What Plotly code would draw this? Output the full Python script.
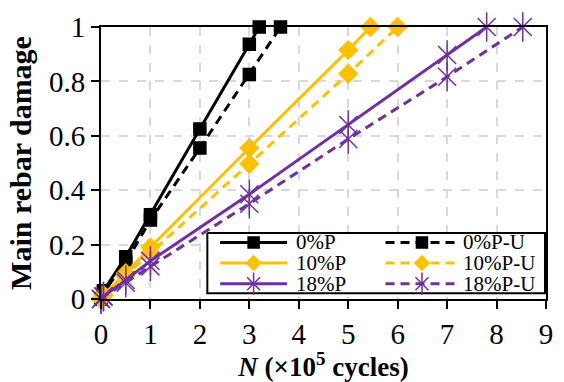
import plotly.graph_objects as go

# Damage of main rebar versus number of loading cycles (x 10^5)
n_0p = [0, 0.05, 0.5, 1, 2, 3, 3.2]
d_0p = [0, 0.03, 0.155, 0.31, 0.625, 0.937, 1.0]

n_0pu = [0, 0.05, 0.5, 1, 2, 3, 3.63]
d_0pu = [0, 0.025, 0.135, 0.29, 0.555, 0.825, 1.0]

n_10p = [0, 0.05, 0.5, 1, 3, 5, 5.45]
d_10p = [0, 0.015, 0.095, 0.19, 0.555, 0.915, 1.0]

n_10pu = [0, 0.05, 0.5, 1, 3, 5, 6.0]
d_10pu = [0, 0.012, 0.085, 0.17, 0.497, 0.828, 1.0]

n_18p = [0, 0.05, 0.5, 1, 3, 5, 7, 7.8]
d_18p = [0, 0.01, 0.07, 0.14, 0.385, 0.64, 0.897, 1.0]

n_18pu = [0, 0.05, 0.5, 1, 3, 5, 7, 8.53]
d_18pu = [0, 0.008, 0.06, 0.12, 0.35, 0.588, 0.817, 1.0]

x_ticks = [0, 1, 2, 3, 4, 5, 6, 7, 8, 9]
y_ticks = [0, 0.2, 0.4, 0.6, 0.8, 1.0]
y_ticktext = ["0", "0.2", "0.4", "0.6", "0.8", "1"]

BLACK = "#000000"
GOLD = "#FFC000"
PURPLE = "#7030A0"
FONT = "Liberation Serif, Times New Roman, serif"
DASH = "9px,6px"

# name, x, y, colour, dash, marker symbol, marker size
series = [
    ("0%P", n_0p, d_0p, BLACK, "solid", "square", 12),
    ("0%P-U", n_0pu, d_0pu, BLACK, DASH, "square", 12),
    ("10%P", n_10p, d_10p, GOLD, "solid", "diamond", 14),
    ("10%P-U", n_10pu, d_10pu, GOLD, DASH, "diamond", 14),
    ("18%P", n_18p, d_18p, PURPLE, "solid", "x-thin-open", 18),
    ("18%P-U", n_18pu, d_18pu, PURPLE, DASH, "x-thin-open", 18),
]

# plot area in pixels (margins below)
L, R, T, B = 101, 11, 19, 79
W, H = 564, 382


def add_markers(fig, xs, ys, color, symbol, size, xaxis="x", yaxis="y"):
    fig.add_trace(go.Scatter(
        x=xs, y=ys, mode="markers", showlegend=False, hoverinfo="skip",
        xaxis=xaxis, yaxis=yaxis, cliponaxis=False,
        marker=dict(symbol=symbol, size=size, color=color,
                    line=dict(color=color, width=1.5)),
    ))
    if symbol == "x-thin-open":
        # vertical stroke completes the six-armed asterisk
        fig.add_trace(go.Scatter(
            x=xs, y=ys, mode="markers", showlegend=False, hoverinfo="skip",
            xaxis=xaxis, yaxis=yaxis, cliponaxis=False,
            marker=dict(symbol="line-ns-open", size=size + 3, color=color,
                        line=dict(color=color, width=1.5)),
        ))


fig = go.Figure()
for name, xs, ys, color, dash, symbol, size in series:
    fig.add_trace(go.Scatter(
        x=xs, y=ys, name=name, mode="lines", showlegend=False,
        line=dict(color=color, width=3, dash=dash), cliponaxis=False,
    ))
    add_markers(fig, xs, ys, color, symbol, size)

# ---- legend box, drawn on a pixel-scaled overlay axis pair ----
box_x0, box_x1, box_y0, box_y1 = 209, 552, 234, 297
fig.add_trace(go.Scatter(
    x=[box_x0, box_x1, box_x1, box_x0, box_x0],
    y=[box_y0, box_y0, box_y1, box_y1, box_y0],
    mode="lines", fill="toself", fillcolor="white",
    line=dict(color="black", width=2), showlegend=False, hoverinfo="skip",
    xaxis="x2", yaxis="y2", cliponaxis=False,
))
row_y = [244, 265.5, 287]
col_line = [(222, 290), (390, 464)]
col_text = [297, 467]
annotations = []
for i, (name, xs, ys, color, dash, symbol, size) in enumerate(series):
    r, c = divmod(i, 2)
    lx0, lx1 = col_line[c]
    yy = row_y[r]
    fig.add_trace(go.Scatter(
        x=[lx0, lx1], y=[yy, yy], mode="lines", showlegend=False,
        hoverinfo="skip", xaxis="x2", yaxis="y2", cliponaxis=False,
        line=dict(color=color, width=3, dash=dash),
    ))
    msize = {"square": 11, "diamond": 11, "x-thin-open": 13}[symbol]
    add_markers(fig, [(lx0 + lx1) / 2], [yy], color, symbol, msize,
                xaxis="x2", yaxis="y2")
    annotations.append(dict(
        x=col_text[c], y=yy, xref="x2", yref="y2", text=name,
        xanchor="left", yanchor="middle", showarrow=False,
        font=dict(family=FONT, size=21, color="black"),
    ))

axis_common = dict(
    showline=True, linecolor="black", linewidth=2, mirror=True,
    ticks="outside", ticklen=8, tickwidth=2, tickcolor="black",
    showgrid=True, gridcolor="#d9d9d9", gridwidth=2, griddash="dash",
    zeroline=False,
    tickfont=dict(family=FONT, size=29, color="black"),
)

fig.update_layout(
    width=W, height=H,
    margin=dict(l=L, r=R, t=T, b=B),
    paper_bgcolor="white", plot_bgcolor="white",
    showlegend=False,
    xaxis=dict(
        range=[0, 9], tickvals=x_ticks,
        title=dict(text="<b><i>N</i> (×10<sup>5</sup> cycles)</b>",
                   font=dict(family=FONT, size=27, color="black"), standoff=2),
        **axis_common,
    ),
    yaxis=dict(
        range=[0, 1], tickvals=y_ticks, ticktext=y_ticktext,
        title=dict(text="<b>Main rebar damage</b>",
                   font=dict(family=FONT, size=30, color="black"), standoff=8),
        **axis_common,
    ),
    xaxis2=dict(overlaying="x", anchor="y2", range=[L, W - R], visible=False,
                fixedrange=True),
    yaxis2=dict(overlaying="y", anchor="x2", range=[H - B, T], visible=False,
                fixedrange=True),
    annotations=annotations,
)

fig.write_html("out.html")
